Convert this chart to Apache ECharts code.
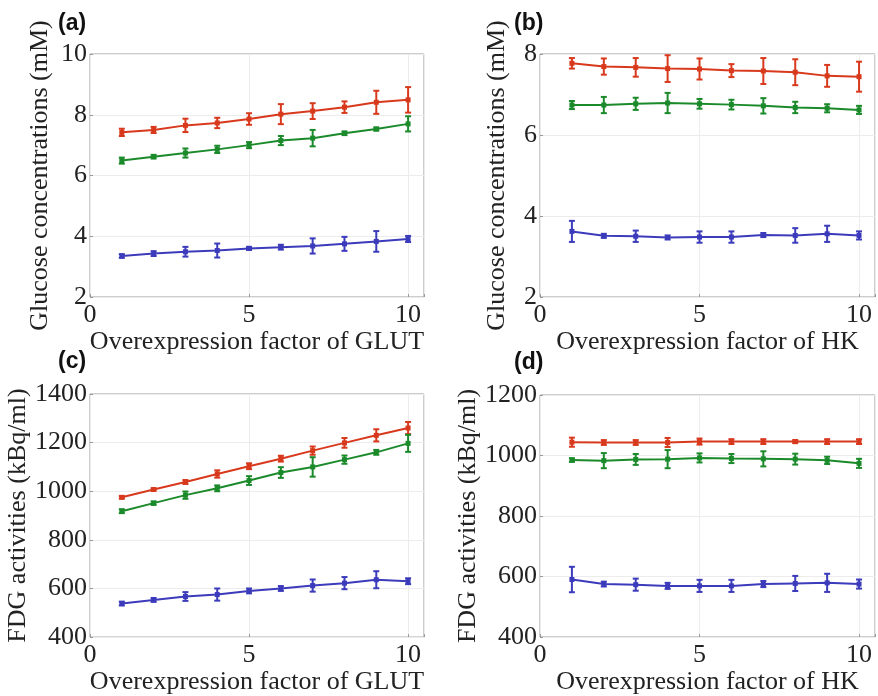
<!DOCTYPE html>
<html>
<head>
<meta charset="utf-8">
<script src="https://cdn.jsdelivr.net/npm/echarts@6/dist/echarts.min.js"></script>
<style>
  html, body { margin: 0; padding: 0; background: #fff; }
  #chart { width: 878px; height: 696px; }
</style>
</head>
<body>
<div id="chart"></div>
<script>
// Overexpression factors (x values shared by all panels)
const factors = [1, 2, 3, 4, 5, 6, 7, 8, 9, 10];

// Panel (a): glucose concentration vs GLUT overexpression (mM)
const aRed    = [7.42, 7.50, 7.65, 7.73, 7.86, 8.02, 8.12, 8.25, 8.41, 8.49];
const aRedErr = [0.12, 0.10, 0.22, 0.17, 0.19, 0.33, 0.26, 0.19, 0.38, 0.42];
const aGreen    = [6.49, 6.62, 6.74, 6.86, 7.00, 7.15, 7.23, 7.39, 7.53, 7.70];
const aGreenErr = [0.10, 0.06, 0.15, 0.12, 0.10, 0.15, 0.27, 0.06, 0.05, 0.25];
const aBlue    = [3.35, 3.43, 3.49, 3.53, 3.60, 3.64, 3.68, 3.75, 3.83, 3.91];
const aBlueErr = [0.06, 0.08, 0.16, 0.23, 0.05, 0.08, 0.25, 0.23, 0.34, 0.10];

// Panel (b): glucose concentration vs HK overexpression (mM)
const bRed    = [7.77, 7.69, 7.67, 7.64, 7.63, 7.59, 7.58, 7.55, 7.46, 7.44];
const bRedErr = [0.13, 0.20, 0.23, 0.33, 0.26, 0.16, 0.32, 0.32, 0.27, 0.37];
const bGreen    = [6.74, 6.74, 6.77, 6.79, 6.77, 6.75, 6.72, 6.68, 6.66, 6.62];
const bGreenErr = [0.10, 0.20, 0.15, 0.25, 0.12, 0.12, 0.19, 0.14, 0.10, 0.10];
const bBlue    = [3.62, 3.51, 3.50, 3.47, 3.48, 3.48, 3.53, 3.52, 3.56, 3.52];
const bBlueErr = [0.26, 0.05, 0.14, 0.05, 0.14, 0.14, 0.05, 0.18, 0.20, 0.10];

// Panel (c): FDG activity vs GLUT overexpression (kBq/ml)
const cRed    = [975, 1007, 1038, 1071, 1103, 1134, 1167, 1199, 1230, 1260];
const cRedErr = [5, 5, 8, 15, 12, 12, 17, 20, 25, 25];
const cGreen    = [918, 951, 984, 1012, 1044, 1077, 1100, 1130, 1160, 1197];
const cGreenErr = [8, 7, 15, 12, 18, 22, 40, 17, 10, 35];
const cBlue    = [538, 553, 567, 575, 590, 600, 612, 622, 636, 630];
const cBlueErr = [8, 8, 18, 25, 10, 10, 25, 25, 35, 12];

// Panel (d): FDG activity vs HK overexpression (kBq/ml)
const dRed    = [1044, 1043, 1043, 1043, 1046, 1046, 1046, 1046, 1046, 1046];
const dRedErr = [15, 8, 8, 15, 10, 8, 8, 5, 8, 8];
const dGreen    = [985, 983, 987, 988, 992, 990, 989, 988, 984, 974];
const dGreenErr = [6, 25, 18, 30, 15, 15, 25, 18, 12, 15];
const dBlue    = [590, 575, 573, 569, 569, 569, 575, 577, 579, 575];
const dBlueErr = [42, 8, 20, 10, 20, 20, 10, 25, 30, 15];

// Axis text
const xTitles = ['Overexpression factor of GLUT', 'Overexpression factor of HK',
                 'Overexpression factor of GLUT', 'Overexpression factor of HK'];
const yTitles = ['Glucose concentrations (mM)', 'Glucose concentrations (mM)',
                 'FDG activities (kBq/ml)', 'FDG activities (kBq/ml)'];
const panelTags = ['(a)', '(b)', '(c)', '(d)'];
const yRanges = [[2, 10, 2], [2, 8, 2], [400, 1400, 200], [400, 1200, 200]];

const RED = '#d8391c', GREEN = '#1b8a2b', BLUE = '#3b3bbb';
const SERIF = '"Liberation Serif", "Times New Roman", serif';

const panels = [
  [[aRed, aRedErr, RED], [aGreen, aGreenErr, GREEN], [aBlue, aBlueErr, BLUE]],
  [[bRed, bRedErr, RED], [bGreen, bGreenErr, GREEN], [bBlue, bBlueErr, BLUE]],
  [[cRed, cRedErr, RED], [cGreen, cGreenErr, GREEN], [cBlue, cBlueErr, BLUE]],
  [[dRed, dRedErr, RED], [dGreen, dGreenErr, GREEN], [dBlue, dBlueErr, BLUE]]
];

const grids = [
  { left: 90,  top: 54,  width: 334, height: 243 },
  { left: 540, top: 54,  width: 335, height: 243 },
  { left: 90,  top: 394, width: 334, height: 244 },
  { left: 540, top: 395, width: 335, height: 242 }
];
const yNameGaps = [37, 30, 57, 58];
const tagPos = [[74, 25], [530, 25], [74, 363], [530, 364]];

// Vertical error bar with caps
function errorBarItem(params, api) {
  const x = api.value(0);
  const lo = api.coord([x, api.value(1)]);
  const hi = api.coord([x, api.value(2)]);
  const w = 3;
  const style = { stroke: api.visual('color'), lineWidth: 2 };
  return {
    type: 'group',
    children: [
      { type: 'line', shape: { x1: lo[0], y1: lo[1], x2: hi[0], y2: hi[1] }, style },
      { type: 'line', shape: { x1: lo[0] - w, y1: lo[1], x2: lo[0] + w, y2: lo[1] }, style },
      { type: 'line', shape: { x1: hi[0] - w, y1: hi[1], x2: hi[0] + w, y2: hi[1] }, style }
    ]
  };
}

const xAxes = [], yAxes = [], series = [], graphics = [];
grids.forEach((g, i) => {
  xAxes.push({
    type: 'value', gridIndex: i, min: 0, max: 10.5, interval: 5,
    name: xTitles[i], nameLocation: 'middle', nameGap: 30,
    nameTextStyle: { fontFamily: SERIF, fontSize: 26, color: '#222', verticalAlign: 'top' },
    axisLine: { show: false },
    axisTick: { show: true, inside: true, length: 3, lineStyle: { color: '#999' } },
    axisLabel: {
      fontFamily: SERIF, fontSize: 26, color: '#222', margin: 5,
      formatter: v => (v % 5 === 0 ? String(v) : '')
    },
    splitLine: { show: true, lineStyle: { color: '#ececec', width: 1 } }
  });
  const r = yRanges[i];
  yAxes.push({
    type: 'value', gridIndex: i, min: r[0], max: r[1], interval: r[2],
    name: yTitles[i], nameLocation: 'middle', nameGap: yNameGaps[i],
    nameTextStyle: { fontFamily: SERIF, fontSize: 26, color: '#222' },
    axisLine: { show: false },
    axisTick: { show: true, inside: true, length: 3, lineStyle: { color: '#999' } },
    axisLabel: { fontFamily: SERIF, fontSize: 26, color: '#222', margin: 3, formatter: v => String(v) },
    splitLine: { show: true, lineStyle: { color: '#ececec', width: 1 } }
  });
  panels[i].forEach(([vals, errs, color]) => {
    series.push({
      type: 'line', xAxisIndex: i, yAxisIndex: i,
      data: factors.map((f, k) => [f, vals[k]]),
      symbol: 'rect', symbolSize: 5,
      lineStyle: { color, width: 2 }, itemStyle: { color },
      z: 3, animation: false
    });
    series.push({
      type: 'custom', xAxisIndex: i, yAxisIndex: i,
      data: factors.map((f, k) => [f, vals[k] - errs[k], vals[k] + errs[k]]),
      itemStyle: { color },
      renderItem: errorBarItem,
      z: 4, animation: false
    });
  });
  graphics.push({
    type: 'text', left: tagPos[i][0] - 16, top: tagPos[i][1] - 13,
    style: { text: panelTags[i], font: 'bold 23px "Liberation Sans", Arial, sans-serif', fill: '#111' }
  });
});

const chart = echarts.init(document.getElementById('chart'), null, { renderer: 'canvas' });
chart.setOption({
  backgroundColor: '#fff',
  animation: false,
  grid: grids.map(g => Object.assign({ show: true, borderColor: '#9a9a9a', borderWidth: 1, backgroundColor: 'transparent' }, g)),
  xAxis: xAxes,
  yAxis: yAxes,
  series,
  graphic: graphics
});
</script>
</body>
</html>
